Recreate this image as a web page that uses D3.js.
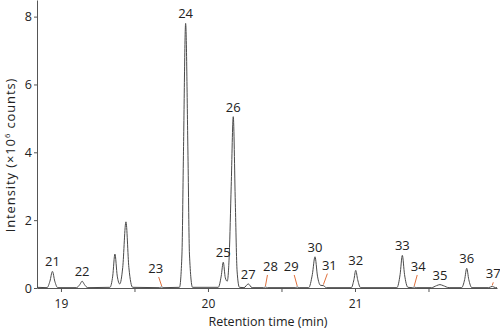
<!DOCTYPE html>
<html>
<head>
<meta charset="utf-8">
<script src="https://cdn.jsdelivr.net/npm/d3@7"></script>
<style>
  body { margin: 0; background: #fff; }
  svg text { font-family: "Open Sans", sans-serif; fill: #222; }
</style>
</head>
<body>
<div class="chart"></div>
<script>
// chromatogram trace, [time (min), intensity (x10^6 counts)]
var traceTime = [18.837, 18.905, 18.925, 18.942, 18.958, 18.978,
  19.105, 19.128, 19.144, 19.160, 19.182,
  19.333, 19.352, 19.367, 19.383, 19.400, 19.420, 19.442, 19.462, 19.488,
  19.670, 19.685, 19.700,
  19.806, 19.823, 19.833, 19.848, 19.864, 19.874, 19.895,
  20.070, 20.090, 20.104, 20.118, 20.131, 20.145, 20.158, 20.172, 20.186, 20.198, 20.214,
  20.245, 20.274, 20.300,
  20.378, 20.391, 20.404,
  20.594, 20.607, 20.620,
  20.685, 20.710, 20.728, 20.745, 20.765, 20.785, 20.805,
  20.975, 20.993, 21.005, 21.018, 21.038,
  21.285, 21.307, 21.322, 21.337, 21.360,
  21.390, 21.403, 21.416,
  21.520, 21.555, 21.578, 21.600, 21.640,
  21.725, 21.746, 21.760, 21.774, 21.795,
  21.910, 21.934, 21.955, 21.966];
var traceIntensity = [0.02, 0.01, 0.20, 0.49, 0.20, 0.01,
  0.01, 0.10, 0.20, 0.10, 0.01,
  0.02, 0.35, 1.00, 0.35, 0.12, 0.60, 1.95, 0.60, 0.02,
  0.01, 0.03, 0.01,
  0.02, 1.00, 3.90, 7.80, 3.90, 1.00, 0.02,
  0.02, 0.35, 0.76, 0.30, 0.20, 1.00, 3.00, 5.05, 2.50, 0.50, 0.02,
  0.01, 0.12, 0.01,
  0.01, 0.03, 0.01,
  0.01, 0.03, 0.01,
  0.01, 0.40, 0.92, 0.35, 0.08, 0.07, 0.01,
  0.01, 0.25, 0.52, 0.25, 0.01,
  0.01, 0.40, 0.96, 0.40, 0.02,
  0.01, 0.03, 0.01,
  0.01, 0.07, 0.10, 0.07, 0.01,
  0.01, 0.25, 0.58, 0.25, 0.01,
  0.01, 0.05, 0.01, 0.01];

// labelled peaks
var peakNames = ["21", "22", "23", "24", "25", "26", "27", "28", "29", "30", "31", "32", "33", "34", "35", "36", "37"];
var peakTimes = [18.942, 19.144, 19.685, 19.848, 20.104, 20.172, 20.274, 20.391, 20.607, 20.728, 20.785, 21.005, 21.322, 21.403, 21.578, 21.760, 21.934];
var peakHeights = [0.49, 0.20, 0.03, 7.80, 0.76, 5.05, 0.12, 0.03, 0.03, 0.92, 0.07, 0.52, 0.96, 0.03, 0.10, 0.58, 0.05];

var xTicks = [19, 19.5, 20, 20.5, 21, 21.5];
var yTicks = [0, 2, 4, 6, 8];

// small peaks labelled with a leader line: label offset from the peak (px)
var leaders = {
  "23": { dx: -6, dy: -18, lx: -3 },
  "28": { dx: 5, dy: -20, lx: 2 },
  "29": { dx: -6, dy: -20, lx: -3 },
  "31": { dx: 6, dy: -20, lx: 4 },
  "34": { dx: 4, dy: -20, lx: 3 },
  "37": { dx: 1, dy: -12, lx: 1 }
};

var width = 500;
var height = 329;

var svg = d3.select(".chart")
            .append("svg")
            .attr("width", width)
            .attr("height", height);

var xScale = d3.scaleLinear()
               .domain([18.837, 21.966])
               .range([37, 497]);
var yScale = d3.scaleLinear()
               .domain([0, 8.49])
               .range([288, 0]);

var xAxis = d3.axisBottom(xScale)
              .tickValues(xTicks)
              .tickFormat(d => Number.isInteger(d) ? d : "")
              .tickSize(4)
              .tickSizeOuter(0)
              .tickPadding(7);
var yAxis = d3.axisLeft(yScale)
              .tickValues(yTicks)
              .tickSize(3)
              .tickSizeOuter(0)
              .tickPadding(2);

//axes
var gx = svg.append("g")
   .attr("transform", `translate(0, ${yScale(0)})`)
   .call(xAxis);
var gy = svg.append("g")
   .attr("transform", `translate(${xScale.range()[0]}, 0)`)
   .call(yAxis);
[gx, gy].forEach(g => {
  g.selectAll("path, line").attr("stroke", "#555").attr("stroke-width", 1);
  g.selectAll("text").attr("font-size", 12.5).attr("font-family", "'Open Sans', sans-serif").attr("fill", "#222");
});
gx.selectAll("text").attr("font-size", 12);

//trace
var trace = traceTime.map((t, i) => [t, traceIntensity[i]]);
var line = d3.line()
             .x(d => xScale(d[0]))
             .y(d => yScale(d[1]))
             .curve(d3.curveMonotoneX);
svg.append("path")
   .datum(trace)
   .attr("d", line)
   .attr("fill", "none")
   .attr("stroke", "#4a4a4a")
   .attr("stroke-width", 1);

//peak labels
peakNames.forEach((name, i) => {
  var px = xScale(peakTimes[i]);
  var py = yScale(peakHeights[i]);
  var lead = leaders[name];
  if (lead) {
    svg.append("line")
       .attr("x1", px + lead.lx)
       .attr("y1", py + lead.dy + 8)
       .attr("x2", px)
       .attr("y2", py - 1)
       .attr("stroke", "#e0703c")
       .attr("stroke-width", 1);
    svg.append("text")
       .attr("x", px + lead.dx)
       .attr("y", py + lead.dy + 4)
       .attr("text-anchor", "middle")
       .attr("font-size", 13)
       .text(name);
  } else {
    svg.append("text")
       .attr("x", px)
       .attr("y", py - 5)
       .attr("text-anchor", "middle")
       .attr("font-size", 13)
       .text(name);
  }
});

//axis titles
svg.append("text")
   .attr("x", 268)
   .attr("y", 325.5)
   .attr("text-anchor", "middle")
   .attr("font-size", 12.5)
   .text("Retention time (min)");
var yt = svg.append("text")
   .attr("transform", "translate(15, 155) rotate(-90)")
   .attr("text-anchor", "middle")
   .attr("font-size", 13)
   .attr("letter-spacing", 0.9);
yt.append("tspan").text("Intensity (\u00d710");
yt.append("tspan").attr("dy", -5).attr("font-size", 7.5).text("6");
yt.append("tspan").attr("dy", 5).text(" counts)");
</script>
</body>
</html>
